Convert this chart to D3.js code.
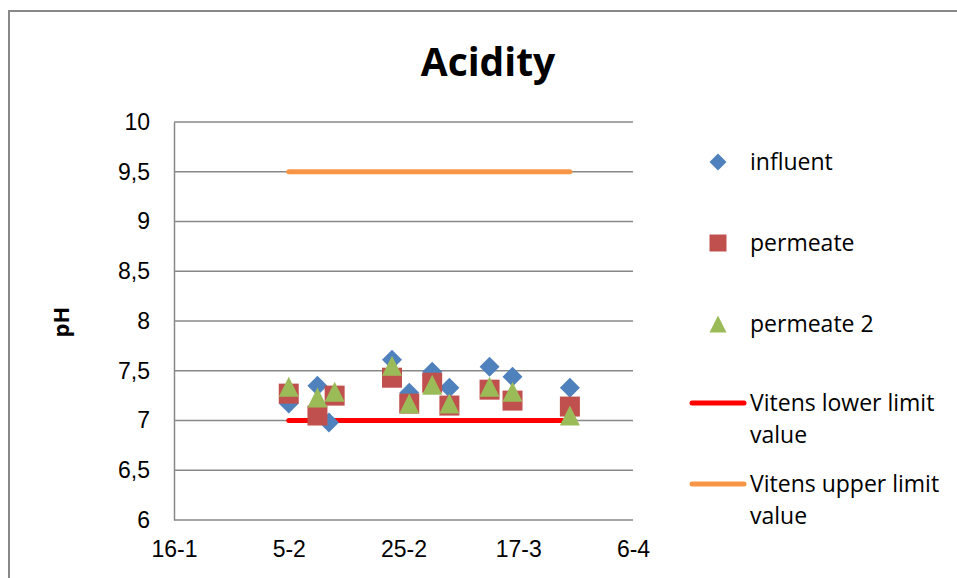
<!DOCTYPE html>
<html lang="en">
<head>
    <meta charset="UTF-8">
    <title>Acidity</title>
    <script src="https://d3js.org/d3.v7.min.js"></script>
    <style>
        body { margin: 0; background: #fff; }
        svg { display: block; font-family: "Open Sans", sans-serif; }
        .tick text { font-size: 23px; fill: #000; }
    </style>
</head>
<body>
    <svg width="957" height="578"></svg>

    <script>
        // Data (dates are day-month, year assumed 2011)
        const xTicks = ["2011-01-16", "2011-02-05", "2011-02-25", "2011-03-17", "2011-04-06"];
        const yTicks = [6, 6.5, 7, 7.5, 8, 8.5, 9, 9.5, 10];

        const influentDates = ["2011-02-05", "2011-02-10", "2011-02-12", "2011-02-23", "2011-02-26",
                               "2011-03-02", "2011-03-05", "2011-03-12", "2011-03-16", "2011-03-26"];
        const influent = [7.17, 7.35, 6.98, 7.61, 7.28, 7.49, 7.33, 7.54, 7.44, 7.33];

        const permeateDates = ["2011-02-05", "2011-02-10", "2011-02-13", "2011-02-23", "2011-02-26",
                               "2011-03-02", "2011-03-05", "2011-03-12", "2011-03-16", "2011-03-26"];
        const permeate = [7.27, 7.05, 7.25, 7.43, 7.17, 7.38, 7.15, 7.31, 7.20, 7.14];
        const permeate2 = [7.34, 7.23, 7.29, 7.55, 7.17, 7.36, 7.17, 7.34, 7.29, 7.05];

        const limitDates = ["2011-02-05", "2011-03-26"];
        const lowerLimit = [7, 7];
        const upperLimit = [9.5, 9.5];

        const parse = d3.timeParse("%Y-%m-%d");
        const svg = d3.select("svg");

        // chart area border (only top and left are visible in the crop)
        svg.append("path")
            .attr("d", "M9,578 V11 H957")
            .attr("fill", "none")
            .attr("stroke", "#888")
            .attr("stroke-width", 2);

        const x = d3.scaleTime()
            .domain([parse(xTicks[0]), parse(xTicks[4])])
            .range([174, 633]);
        const y = d3.scaleLinear()
            .domain([6, 10])
            .range([520, 122]);

        const fmtY = v => String(v).replace(".", ",");
        const fmtX = d3.timeFormat("%-d-%-m");

        // gridlines
        svg.append("g")
            .selectAll("line")
            .data(yTicks)
            .join("line")
            .attr("x1", 174).attr("x2", 633)
            .attr("y1", d => y(d)).attr("y2", d => y(d))
            .attr("stroke", "#888").attr("stroke-width", 1.5);

        // y axis
        const yAxis = svg.append("g")
            .attr("transform", "translate(174,0)")
            .call(d3.axisLeft(y).tickValues(yTicks).tickFormat(fmtY).tickSize(0).tickPadding(24));
        yAxis.select(".domain").attr("stroke", "#888").attr("stroke-width", 1.5);

        // x axis
        const xAxis = svg.append("g")
            .attr("transform", "translate(0,520)")
            .call(d3.axisBottom(x).tickValues(xTicks.map(parse)).tickFormat(fmtX).tickSize(0).tickPadding(21));
        xAxis.select(".domain").remove();

        // limit lines
        const line = d3.line().x(d => x(d[0])).y(d => y(d[1]));
        const lowerPts = limitDates.map((d, i) => [parse(d), lowerLimit[i]]);
        const upperPts = limitDates.map((d, i) => [parse(d), upperLimit[i]]);
        svg.append("path").attr("d", line(lowerPts))
            .attr("fill", "none").attr("stroke", "#FF0000").attr("stroke-width", 5).attr("stroke-linecap", "round");
        svg.append("path").attr("d", line(upperPts))
            .attr("fill", "none").attr("stroke", "#F79646").attr("stroke-width", 5).attr("stroke-linecap", "round");

        // marker shapes, centred on their bounding box
        const diamond = r => `M0,${-r}L${r},0L0,${r}L${-r},0Z`;
        const square = r => `M${-r},${-r}H${r}V${r}H${-r}Z`;
        const triangle = r => `M0,${-r}L${r},${r}H${-r}Z`;

        function drawSeries(dates, values, shape, color) {
            svg.append("g")
                .selectAll("path")
                .data(values)
                .join("path")
                .attr("d", shape)
                .attr("transform", (d, i) => `translate(${x(parse(dates[i]))},${y(d)})`)
                .attr("fill", color);
        }

        drawSeries(influentDates, influent, diamond(10), "#4F81BD");
        drawSeries(permeateDates, permeate, square(10), "#C0504D");
        drawSeries(permeateDates, permeate2, triangle(10), "#9BBB59");

        // title and axis label
        svg.append("text")
            .attr("x", 488).attr("y", 76)
            .attr("text-anchor", "middle")
            .attr("font-size", 39).attr("font-weight", "bold")
            .text("Acidity");

        svg.append("text")
            .attr("transform", "translate(69,322) rotate(-90)")
            .attr("text-anchor", "middle")
            .attr("font-size", 22).attr("font-weight", "bold")
            .text("pH");

        // legend
        const legend = svg.append("g").attr("font-size", 23);
        const legendMarkers = [
            { shape: diamond(8.5), color: "#4F81BD", label: "influent", y: 162 },
            { shape: square(8.5), color: "#C0504D", label: "permeate", y: 243 },
            { shape: triangle(8.5), color: "#9BBB59", label: "permeate 2", y: 324 }
        ];
        legendMarkers.forEach(m => {
            legend.append("path").attr("d", m.shape)
                .attr("transform", `translate(718,${m.y})`).attr("fill", m.color);
            legend.append("text").attr("x", 750).attr("y", m.y).attr("dy", "0.35em").text(m.label);
        });

        const legendLines = [
            { color: "#FF0000", lines: ["Vitens lower limit", "value"], y: 403 },
            { color: "#F79646", lines: ["Vitens upper limit", "value"], y: 484 }
        ];
        legendLines.forEach(m => {
            legend.append("line")
                .attr("x1", 692).attr("x2", 744).attr("y1", m.y).attr("y2", m.y)
                .attr("stroke", m.color).attr("stroke-width", 5).attr("stroke-linecap", "round");
            m.lines.forEach((t, i) => {
                legend.append("text").attr("x", 750).attr("y", m.y + i * 32).attr("dy", "0.35em").text(t);
            });
        });
    </script>
</body>
</html>
